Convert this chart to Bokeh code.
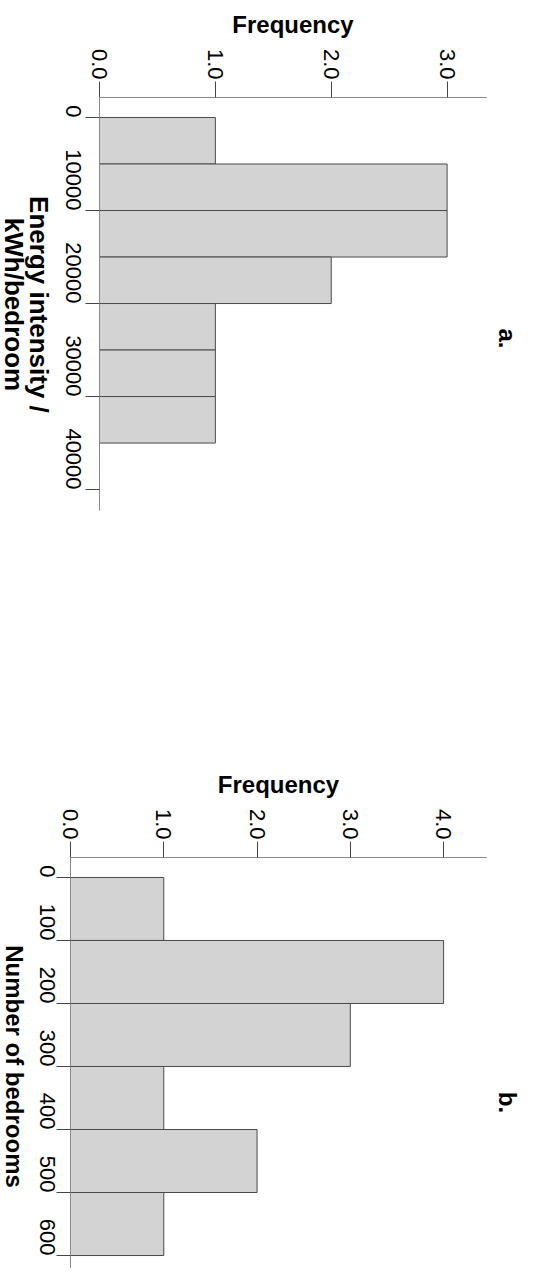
import math
from bokeh.plotting import figure
from bokeh.models import Range1d, FixedTicker, Label, NumeralTickFormatter, BasicTickFormatter
from bokeh.layouts import column, row
from bokeh.embed import file_html
from bokeh.resources import INLINE

# ---------------- data ----------------
energy_bin_start = [0, 5000, 10000, 15000, 20000, 25000, 30000]
energy_bin_width = 5000
energy_freq = [1, 3, 3, 2, 1, 1, 1]
energy_ticks = [0, 10000, 20000, 30000, 40000]
energy_tick_labels = ["0", "10000", "20000", "30000", "40000"]
freq_ticks_a = [0, 1, 2, 3]
freq_tick_labels_a = ["0.0", "1.0", "2.0", "3.0"]

bed_bin_start = [0, 100, 200, 300, 400, 500]
bed_bin_width = 100
bed_freq = [1, 4, 3, 1, 2, 1]
bed_ticks = [0, 100, 200, 300, 400, 500, 600]
bed_tick_labels = ["0", "100", "200", "300", "400", "500", "600"]
freq_ticks_b = [0, 1, 2, 3, 4]
freq_tick_labels_b = ["0.0", "1.0", "2.0", "3.0", "4.0"]

FONT = "Liberation Sans"
ROT = -math.pi / 2


def make_hist(bin_start, bin_width, freq, xr, yr, fw, fh, bl, bt, br, bb,
              xticks, xlabels, yticks, ylabels, y_standoff):
    p = figure(x_range=xr, y_range=yr, frame_width=fw, frame_height=fh,
               min_border_left=bl, min_border_top=bt, min_border_right=br,
               min_border_bottom=bb, x_axis_location="above",
               output_backend="svg", toolbar_location=None, tools="")
    p.outline_line_color = None
    p.grid.visible = False
    p.background_fill_color = "white"
    centers = [s + bin_width / 2 for s in bin_start]
    p.hbar(y=centers, height=bin_width, left=0, right=freq,
           fill_color="#d3d3d3", line_color="#4a4a4a", line_width=1)

    xa = p.xaxis[0]
    xa.ticker = FixedTicker(ticks=xticks)
    xa.formatter = NumeralTickFormatter(format="0.0")
    xa.major_label_overrides = {float(t): l for t, l in zip(xticks, xlabels)}
    xa.major_label_orientation = ROT
    xa.major_tick_in = 0
    xa.major_tick_out = 16
    xa.minor_tick_out = 0
    xa.minor_tick_in = 0
    xa.major_label_standoff = 2
    xa.axis_line_color = "#8a8a8a"
    xa.major_tick_line_color = "#444444"
    xa.major_label_text_font = FONT
    xa.major_label_text_font_size = "22px"
    xa.major_label_text_color = "black"
    xa.axis_label = "Frequency"
    xa.axis_label_text_font = FONT
    xa.axis_label_text_font_style = "bold"
    xa.axis_label_text_font_size = "24px"
    xa.axis_label_text_color = "black"
    xa.axis_label_standoff = 8

    ya = p.yaxis[0]
    ya.ticker = FixedTicker(ticks=yticks)
    ya.formatter = BasicTickFormatter(use_scientific=False)
    ya.major_label_overrides = {float(t): l for t, l in zip(yticks, ylabels)}
    ya.major_label_orientation = ROT
    ya.major_tick_in = 0
    ya.major_tick_out = 14
    ya.minor_tick_out = 0
    ya.minor_tick_in = 0
    ya.major_label_standoff = y_standoff
    ya.axis_line_color = "#8a8a8a"
    ya.major_tick_line_color = "#444444"
    ya.major_label_text_font = FONT
    ya.major_label_text_font_size = "22px"
    ya.major_label_text_color = "black"
    return p


def text_fig(w, h, yr, bt, bb):
    # side strip sharing the histogram's vertical range (frames are aligned in a row)
    f = figure(width=w, height=h, x_range=Range1d(0, w), y_range=yr,
               x_axis_type=None, y_axis_type=None,
               min_border_left=0, min_border_right=0,
               min_border_top=bt, min_border_bottom=bb,
               output_backend="svg", toolbar_location=None, tools="")
    f.outline_line_color = None
    f.background_fill_color = "white"
    return f


def add_label(p, x, y, text, size):
    p.add_layout(Label(x=x, y=y, text=text, angle=ROT, text_align="center",
                       text_baseline="alphabetic", text_font=FONT,
                       text_font_size=size, text_font_style="bold",
                       text_color="black"))


HA = 700
HB = 568
BORDER_A = 46
BORDER_B = 43

# ---------------- panel a ----------------
yr_a = Range1d(42250, -2150)
pa = make_hist(energy_bin_start, energy_bin_width, energy_freq,
               Range1d(0, 3.34), yr_a,
               387, 413, BORDER_A, 97, 4, HA - 97 - 413,
               freq_ticks_a, freq_tick_labels_a,
               energy_ticks, energy_tick_labels, 12)
ta = text_fig(99 - BORDER_A, HA, yr_a, 97, HA - 97 - 413)
add_label(ta, 38, 20100, "Energy intensity /", "26px")
add_label(ta, 13, 20100, "kWh/bedroom", "26px")
ra = text_fig(54, HA, yr_a, 97, HA - 97 - 413)
add_label(ra, 17, 23760, "a.", "24px")

# ---------------- panel b ----------------
yr_b = Range1d(620.6, -31.7)
pb = make_hist(bed_bin_start, bed_bin_width, bed_freq,
               Range1d(0, 4.46), yr_b,
               416, 411, BORDER_B, 157, 4, 0,
               freq_ticks_b, freq_tick_labels_b,
               bed_ticks, bed_tick_labels, 9)
tb = text_fig(70 - BORDER_B, HB, yr_b, 157, 0)
add_label(tb, 13.8, 300, "Number of bedrooms", "24px")
rb = text_fig(54, HB, yr_b, 157, 0)
add_label(rb, 17, 357, "b.", "24px")

layout = column(row(ta, pa, ra, spacing=0),
                row(tb, pb, rb, spacing=0), spacing=0)
open("out.html", "w").write(file_html(layout, INLINE))
